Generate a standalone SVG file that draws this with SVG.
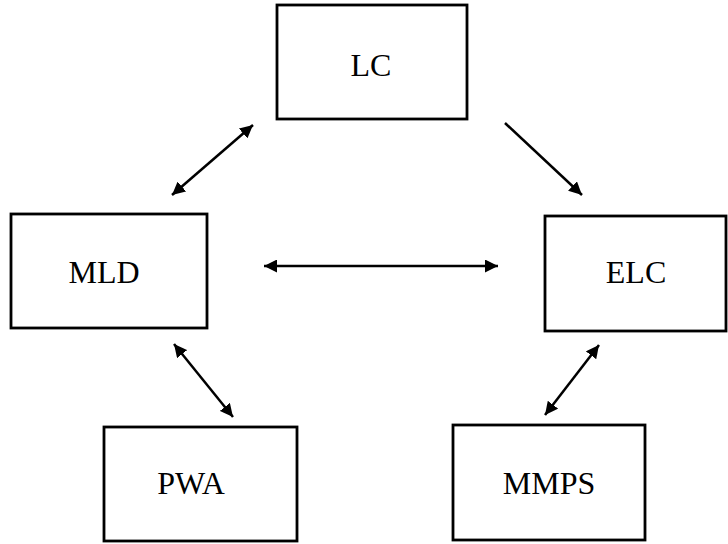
<svg xmlns="http://www.w3.org/2000/svg" width="728" height="544" viewBox="0 0 728 544">
<style>
.box{fill:#fff;stroke:#000;stroke-width:2.8}
.lbl{font-family:"Liberation Serif","Times New Roman",serif;font-size:32px;fill:#000;text-anchor:middle}
.conn{stroke:#000;stroke-width:2.5;fill:none}
</style>
<defs>
<marker id="ah" markerUnits="userSpaceOnUse" markerWidth="14" markerHeight="13" refX="13" refY="6.5" orient="auto-start-reverse" viewBox="0 0 14 13">
<path d="M0,0 L13,6.5 L0,13 z" fill="#000"/>
</marker>
</defs>
<rect width="728" height="544" fill="#fff"/>
<g id="LC"><rect class="box" x="277" y="5" width="190" height="114"/><text class="lbl" x="371" y="76">LC</text></g>
<g id="MLD"><rect class="box" x="11" y="214" width="196" height="114"/><text class="lbl" x="104" y="283">MLD</text></g>
<g id="ELC"><rect class="box" x="545" y="216" width="181" height="115"/><text class="lbl" x="636" y="283">ELC</text></g>
<g id="PWA"><rect class="box" x="104" y="427" width="193" height="114"/><text class="lbl" x="191" y="494">PWA</text></g>
<g id="MMPS"><rect class="box" x="453" y="425" width="192" height="115"/><text class="lbl" x="549" y="494">MMPS</text></g>
<g id="connectors">
<line class="conn" x1="172" y1="195" x2="253" y2="125" marker-start="url(#ah)" marker-end="url(#ah)"/>
<line class="conn" x1="505" y1="123" x2="582" y2="195" marker-end="url(#ah)"/>
<line class="conn" x1="264" y1="266" x2="498" y2="266" marker-start="url(#ah)" marker-end="url(#ah)"/>
<line class="conn" x1="174" y1="344" x2="233" y2="417" marker-start="url(#ah)" marker-end="url(#ah)"/>
<line class="conn" x1="599" y1="345" x2="545" y2="415" marker-start="url(#ah)" marker-end="url(#ah)"/>
</g>
</svg>
